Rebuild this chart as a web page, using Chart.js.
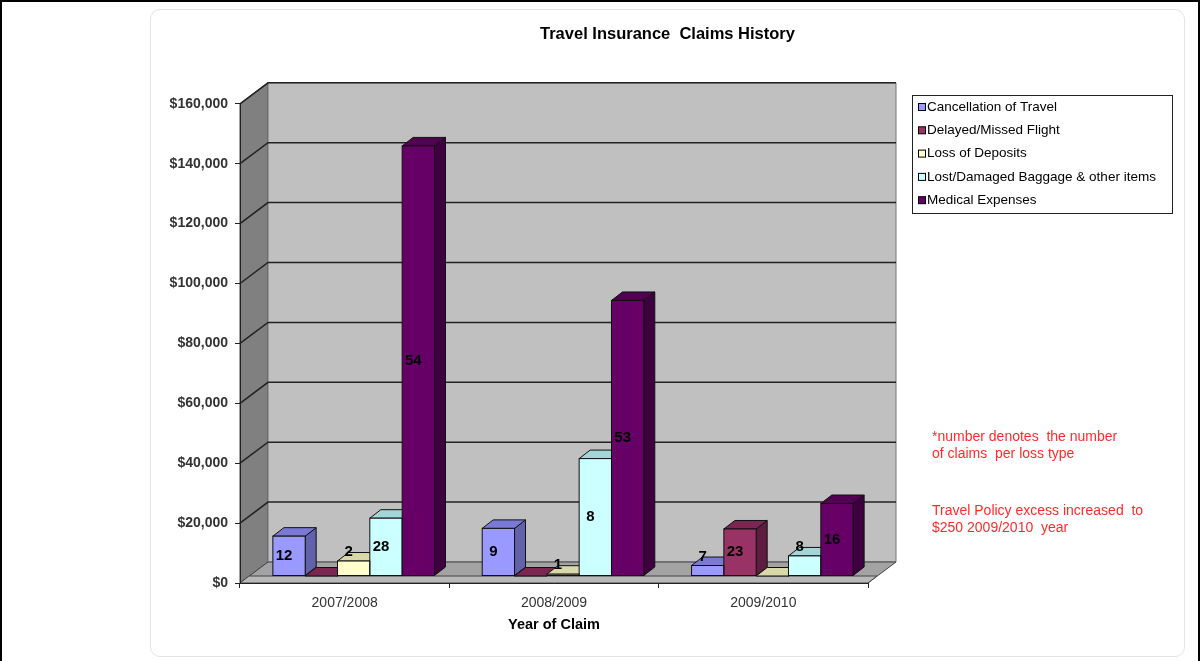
<!DOCTYPE html>
<html>
<head>
<meta charset="utf-8">
<title>Travel Insurance Claims History</title>
<script src="https://cdn.jsdelivr.net/npm/chart.js@4.4.1/dist/chart.umd.min.js"></script>
<style>
  html, body { margin: 0; padding: 0; background: #fff; }
  #frame { position: relative; width: 1200px; height: 661px; box-sizing: border-box;
    border: 2px solid #000; border-bottom: none; overflow: hidden; }
  #box { position: absolute; left: 148px; top: 7px; width: 1033px; height: 646px;
    border: 1px solid #e4e4e4; border-radius: 10px; }
  #chart { position: absolute; left: 148px; top: 7px; }
</style>
</head>
<body>
<div id="frame">
  <div id="box"></div>
  <canvas id="chart" width="1035" height="648"></canvas>
</div>
<script>
// claim years
const categories = ['2007/2008', '2008/2009', '2009/2010'];
const seriesNames = [
  'Cancellation of Travel',
  'Delayed/Missed Flight',
  'Loss of Deposits',
  'Lost/Damaged Baggage & other items',
  'Medical Expenses'
];

// amount claimed ($) per loss type
const cancellation = [13300, 15900, 3500];
const delayed = [0, 0, 15700];
const deposits = [5000, 600, 0];
const baggage = [19300, 39200, 6700];
const medical = [143600, 92000, 24200];

// number of claims per loss type (shown on the bars)
const cancellationClaims = [12, 9, 7];
const delayedClaims = [null, null, 23];
const depositsClaims = [2, 1, null];
const baggageClaims = [28, 8, 8];
const medicalClaims = [54, 53, 16];

// value axis
const yMax = 160000;
const yStep = 20000;

const notes = [
  ['*number denotes  the number', 'of claims  per loss type'],
  ['Travel Policy excess increased  to', '$250 2009/2010  year']
];

const frontColors = ['#9999ff', '#993366', '#ffffcc', '#ccffff', '#660066'];
const topColors = ['#7a7ad6', '#7a2650', '#d8d8a8', '#a3d6d6', '#520052'];
const sideColors = ['#6262aa', '#5e1d3e', '#b0b08a', '#86b0b0', '#3e003e'];

// fake 3D: depth offsets of walls, bar plane and bar thickness
const WALL_DX = 28, WALL_DY = -21;
const BAR_DX = 9, BAR_DY = -7;
const DEPTH_DX = 11, DEPTH_DY = -8.5;

const FONT = "'Liberation Sans', Arial, sans-serif";

function poly(ctx, pts, fill, stroke) {
  ctx.beginPath();
  ctx.moveTo(pts[0][0], pts[0][1]);
  for (let i = 1; i < pts.length; i++) ctx.lineTo(pts[i][0], pts[i][1]);
  ctx.closePath();
  if (fill) { ctx.fillStyle = fill; ctx.fill(); }
  if (stroke) { ctx.strokeStyle = stroke; ctx.lineWidth = 1; ctx.stroke(); }
}

const walls = {
  id: 'walls',
  beforeDraw(chart) {
    const {ctx, chartArea: a, scales: {y}} = chart;
    const L = a.left, R = a.right, T = a.top, B = a.bottom;
    ctx.save();
    // side wall
    poly(ctx, [[L, T], [L + WALL_DX, T + WALL_DY], [L + WALL_DX, B + WALL_DY], [L, B]], '#808080', '#444');
    // back wall
    poly(ctx, [[L + WALL_DX, T + WALL_DY], [R + WALL_DX, T + WALL_DY],
               [R + WALL_DX, B + WALL_DY], [L + WALL_DX, B + WALL_DY]], '#c0c0c0', '#777');
    // gridlines run across the side wall and the back wall
    ctx.strokeStyle = '#222';
    ctx.lineWidth = 1.5;
    y.ticks.forEach(t => {
      if (t.value === 0) return;
      const py = y.getPixelForValue(t.value);
      ctx.beginPath();
      ctx.moveTo(L, py);
      ctx.lineTo(L + WALL_DX, py + WALL_DY);
      ctx.lineTo(R + WALL_DX, py + WALL_DY);
      ctx.stroke();
    });
    // floor
    poly(ctx, [[L, B], [R, B], [R + WALL_DX, B + WALL_DY], [L + WALL_DX, B + WALL_DY]], '#a3a3a3', '#444');
    poly(ctx, [[L, B], [R, B], [R + BAR_DX, B + BAR_DY], [L + BAR_DX, B + BAR_DY]], '#b9b9b9', '#444');
    ctx.restore();
  }
};

const claimCounts = [cancellationClaims, delayedClaims, depositsClaims, baggageClaims, medicalClaims];

const bars3d = {
  id: 'bars3d',
  beforeDatasetsDraw(chart) {
    const ctx = chart.ctx;
    ctx.save();
    ctx.translate(BAR_DX, BAR_DY);
    chart.data.datasets.forEach((ds, i) => {
      chart.getDatasetMeta(i).data.forEach(bar => {
        const {x, y, base, width} = bar.getProps(['x', 'y', 'base', 'width'], true);
        const l = x - width / 2, r = x + width / 2;
        poly(ctx, [[r, y], [r + DEPTH_DX, y + DEPTH_DY], [r + DEPTH_DX, base + DEPTH_DY], [r, base]], sideColors[i], '#111');
        poly(ctx, [[l, y], [l + DEPTH_DX, y + DEPTH_DY], [r + DEPTH_DX, y + DEPTH_DY], [r, y]], topColors[i], '#111');
      });
    });
  },
  afterDatasetsDraw(chart) {
    const ctx = chart.ctx;
    ctx.strokeStyle = '#111';
    ctx.lineWidth = 1;
    chart.data.datasets.forEach((ds, i) => {
      chart.getDatasetMeta(i).data.forEach(bar => {
        const {x, y, base, width} = bar.getProps(['x', 'y', 'base', 'width'], true);
        if (base - y > 0.5) ctx.strokeRect(x - width / 2, y, width, base - y);
      });
    });
    ctx.fillStyle = '#000';
    ctx.font = 'bold 15px ' + FONT;
    ctx.textAlign = 'center';
    ctx.textBaseline = 'middle';
    chart.data.datasets.forEach((ds, i) => {
      chart.getDatasetMeta(i).data.forEach((bar, j) => {
        const n = claimCounts[i][j];
        if (n == null) return;
        const {x, y, base} = bar.getProps(['x', 'y', 'base'], true);
        const ly = base - y >= 22 ? (y + base) / 2 : y - 9;
        ctx.fillText(String(n), x - 5, ly);
      });
    });
    ctx.restore();
  }
};

// legend box and red notes at the right
const sidePanel = {
  id: 'sidePanel',
  afterDraw(chart) {
    const ctx = chart.ctx;
    ctx.save();
    ctx.strokeStyle = '#222';
    ctx.lineWidth = 1;
    ctx.strokeRect(762.5, 86.5, 260, 118);
    ctx.font = '13.5px ' + FONT;
    ctx.textAlign = 'left';
    ctx.textBaseline = 'middle';
    seriesNames.forEach((name, i) => {
      const cy = 98 + i * 23.3;
      ctx.fillStyle = frontColors[i];
      ctx.fillRect(768.5, cy - 3.5, 7, 7);
      ctx.strokeStyle = '#000';
      ctx.strokeRect(768.5, cy - 3.5, 7, 7);
      ctx.fillStyle = '#000';
      ctx.fillText(name, 777, cy);
    });
    ctx.fillStyle = '#ff2b2b';
    ctx.font = '14px ' + FONT;
    const noteTop = [428, 502];
    notes.forEach((lines, k) => {
      lines.forEach((line, m) => ctx.fillText(line, 782, noteTop[k] + m * 17));
    });
    ctx.restore();
  }
};

const seriesValues = [cancellation, delayed, deposits, baggage, medical];

new Chart(document.getElementById('chart'), {
  type: 'bar',
  data: {
    labels: categories,
    datasets: seriesNames.map((name, i) => ({
      label: name,
      data: seriesValues[i],
      backgroundColor: frontColors[i],
      borderWidth: 0,
      categoryPercentage: 0.772,
      barPercentage: 1,
      clip: false
    }))
  },
  options: {
    responsive: false,
    animation: false,
    devicePixelRatio: 1,
    plugins: {
      legend: { display: false },
      tooltip: { enabled: false },
      title: {
        display: true,
        text: 'Travel Insurance  Claims History',
        color: '#000',
        font: { family: FONT, size: 16.5, weight: 'bold' },
        padding: { top: 16, bottom: 59 }
      }
    },
    scales: {
      x: {
        afterFit: s => { s.height = 74; },
        grid: { display: true, offset: true, drawOnChartArea: false, drawTicks: true, tickLength: 5, color: '#222' },
        border: { display: true, color: '#222' },
        ticks: { color: '#333', font: { family: FONT, size: 14 }, padding: 7 },
        title: {
          display: true,
          text: 'Year of Claim',
          color: '#000',
          font: { family: FONT, size: 14.5, weight: 'bold' },
          padding: { top: 0, bottom: 23 }
        }
      },
      y: {
        min: 0,
        max: yMax,
        afterFit: s => { s.width = 90; },
        grid: { drawOnChartArea: false, drawTicks: true, tickLength: 5, color: '#222' },
        border: { display: true, color: '#222' },
        ticks: {
          stepSize: yStep,
          padding: 7,
          color: '#333',
          font: { family: FONT, size: 14, weight: 'bold' },
          callback: v => '$' + v.toLocaleString('en-US')
        }
      },
      // empty axis that keeps the right-hand side free for the legend and notes
      side: {
        type: 'linear',
        position: 'right',
        afterFit: s => { s.width = 317; },
        grid: { display: false },
        border: { display: false },
        ticks: { display: false }
      }
    }
  },
  plugins: [walls, bars3d, sidePanel]
});
</script>
</body>
</html>
